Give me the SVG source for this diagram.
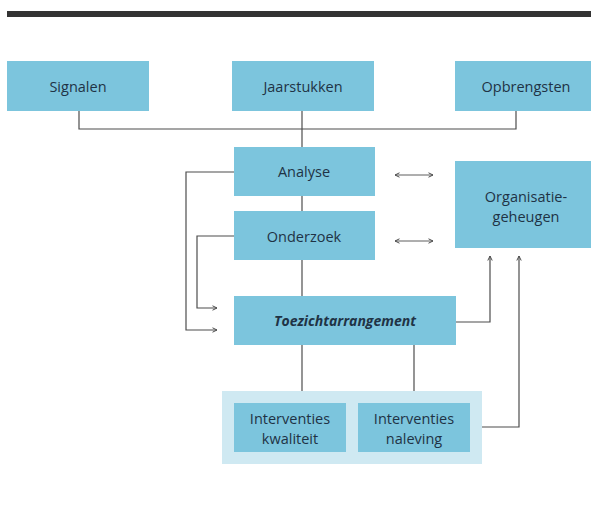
<svg xmlns="http://www.w3.org/2000/svg" width="591" height="509" viewBox="0 0 591 509">
  <style>
    .box { fill: #7cc5dd; }
    .grp { fill: #cfe9f2; }
    .lbl { font-family: "Open Sans", "Noto Sans", sans-serif; font-size: 14.5px; fill: #1f3345; text-anchor: middle; }
    .em { font-weight: bold; font-style: italic; font-size: 14px; }
    .ln { fill: none; stroke: #4d4d4d; stroke-width: 1.2; }
    .thin { fill: none; stroke: #4d4d4d; stroke-width: 0.9; }
  </style>
  <defs>
    <marker id="head" viewBox="0 0 6 6" refX="5.5" refY="3" markerWidth="6" markerHeight="6" markerUnits="userSpaceOnUse" orient="auto-start-reverse">
      <path d="M1,0.8 L5.5,3 L1,5.2" fill="none" stroke="#4d4d4d" stroke-width="1"/>
    </marker>
  </defs>

  <!-- heading rule -->
  <rect x="7" y="11" width="584" height="6" fill="#333333"/>

  <!-- connectors -->
  <g id="connectors">
    <!-- sources join into Analyse -->
    <path class="ln" d="M79,111 V129 H516 V111"/>
    <path class="ln" d="M302,111 V147"/>
    <path class="ln" d="M302,196 V211"/>
    <path class="ln" d="M302,260 V296"/>
    <!-- feedback loops into Toezichtarrangement -->
    <path class="ln" d="M234,172 H186 V330 H217" marker-end="url(#head)"/>
    <path class="ln" d="M234,236 H197 V308 H217" marker-end="url(#head)"/>
    <!-- two-way links with Organisatiegeheugen -->
    <path class="thin" d="M395,175 H433" marker-start="url(#head)" marker-end="url(#head)"/>
    <path class="thin" d="M395,241 H433" marker-start="url(#head)" marker-end="url(#head)"/>
    <!-- Toezichtarrangement to interventions -->
    <path class="ln" d="M302,345 V391"/>
    <path class="ln" d="M414,345 V391"/>
    <!-- feedback to Organisatiegeheugen -->
    <path class="ln" d="M456,322 H490 V256" marker-end="url(#head)"/>
    <path class="ln" d="M482,427 H519 V256" marker-end="url(#head)"/>
  </g>

  <g id="signalen">
    <rect class="box" x="7" y="61" width="142" height="50"/>
    <text class="lbl" x="78" y="92">Signalen</text>
  </g>
  <g id="jaarstukken">
    <rect class="box" x="232" y="61" width="142" height="50"/>
    <text class="lbl" x="303" y="92">Jaarstukken</text>
  </g>
  <g id="opbrengsten">
    <rect class="box" x="455" y="61" width="142" height="50"/>
    <text class="lbl" x="526" y="92">Opbrengsten</text>
  </g>
  <g id="analyse">
    <rect class="box" x="234" y="147" width="141" height="49"/>
    <text class="lbl" x="304" y="177">Analyse</text>
  </g>
  <g id="onderzoek">
    <rect class="box" x="234" y="211" width="141" height="49"/>
    <text class="lbl" x="304" y="242">Onderzoek</text>
  </g>
  <g id="organisatiegeheugen">
    <rect class="box" x="455" y="161" width="142" height="87"/>
    <text class="lbl" x="526" y="202">Organisatie-</text>
    <text class="lbl" x="526" y="222">geheugen</text>
  </g>
  <g id="toezichtarrangement">
    <rect class="box" x="234" y="296" width="222" height="49"/>
    <text class="lbl em" x="345" y="326">Toezichtarrangement</text>
  </g>
  <g id="interventies">
    <rect class="grp" x="222" y="391" width="260" height="73"/>
    <g id="interventies-kwaliteit">
      <rect class="box" x="234" y="403" width="112" height="49"/>
      <text class="lbl" x="290" y="424">Interventies</text>
      <text class="lbl" x="290" y="444">kwaliteit</text>
    </g>
    <g id="interventies-naleving">
      <rect class="box" x="358" y="403" width="112" height="49"/>
      <text class="lbl" x="414" y="424">Interventies</text>
      <text class="lbl" x="414" y="444">naleving</text>
    </g>
  </g>
</svg>
